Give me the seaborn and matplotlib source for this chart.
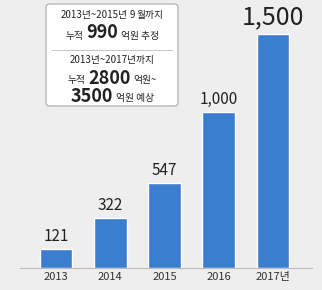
import matplotlib
matplotlib.use("Agg")
import matplotlib.pyplot as plt
import seaborn as sns
import pandas as pd
from matplotlib.patches import FancyBboxPatch
from matplotlib.offsetbox import TextArea, HPacker, AnchoredOffsetbox

years = ["2013", "2014", "2015", "2016", "2017년"]
values = [121, 322, 547, 1000, 1500]
value_labels = ["121", "322", "547", "1,000", "1,500"]

sns.set_theme(style="white")
plt.rcParams['font.family'] = ['Noto Sans CJK KR', 'DejaVu Sans']

df = pd.DataFrame({"year": years, "value": values})

fig = plt.figure(figsize=(3.22, 2.9), dpi=100, facecolor="#eeeeee")
ax = fig.add_axes([20 / 322, 1 - 268 / 290, 292 / 322, 268 / 290])
ax.set_facecolor("#eeeeee")

sns.barplot(data=df, x="year", y="value", color="#3b7dcf", width=0.6,
            saturation=1, ax=ax)

ax.set_xlim(-0.664, 4.72)
ax.set_ylim(0, 1718)
for s in ["top", "right", "left"]:
    ax.spines[s].set_visible(False)
ax.spines["bottom"].set_color("#bbbbbb")
ax.spines["bottom"].set_linewidth(0.8)
ax.set_yticks([])
ax.set_xlabel("")
ax.set_ylabel("")
ax.tick_params(axis="x", length=0, pad=3, labelsize=8, colors="#333333")

for i, (v, t) in enumerate(zip(values, value_labels)):
    size = 18 if i == 4 else 11
    ax.text(i, v + 25, t, ha="center", va="bottom", fontsize=size, color="#222222")

# info box
box = FancyBboxPatch((46 / 322, 1 - 106 / 290), 132 / 322, 102 / 290,
                     boxstyle="round,pad=0,rounding_size=0.012",
                     transform=fig.transFigure, facecolor="white",
                     edgecolor="#aaaaaa", linewidth=0.8)
fig.patches.append(box)
fig.add_artist(plt.Line2D([52 / 322, 172 / 322], [1 - 50 / 290, 1 - 50 / 290],
                          color="#bbbbbb", linewidth=0.6, transform=fig.transFigure))

cx = 112 / 322


def line(y, parts, sep=2):
    boxes = [TextArea(t, textprops=dict(fontsize=s, fontweight=w, color="#222222",
                                        family=['Noto Sans CJK KR']))
             for t, s, w in parts]
    pk = HPacker(children=boxes, align="baseline", pad=0, sep=sep)
    ab = AnchoredOffsetbox(loc="center", child=pk, frameon=False,
                           bbox_to_anchor=(cx, 1 - y / 290),
                           bbox_transform=fig.transFigure, borderpad=0, pad=0)
    fig.add_artist(ab)


line(15, [("2013년~2015년", 7, "normal"), ("9", 7, "normal"), ("월까지", 7, "normal")], sep=1.5)
line(33, [("누적", 7, "normal"), ("990", 13, "bold"), ("억원 추정", 7, "normal")])
line(60, [("2013년~2017년까지", 7, "normal")])
line(78, [("누적", 7, "normal"), ("2800", 13, "bold"), ("억원~", 7, "normal")])
line(96, [("3500", 13, "bold"), ("억원 예상", 7, "normal")])

fig.savefig("out.png", dpi=100, facecolor=fig.get_facecolor())
